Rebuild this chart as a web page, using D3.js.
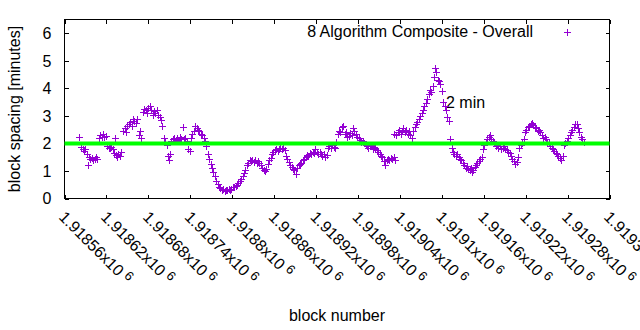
<!DOCTYPE html>
<html>
<head>
<meta charset="utf-8">
<script src="https://cdn.jsdelivr.net/npm/d3@7"></script>
<style>
body { margin: 0; background: #fff; }
text { font-family: "Liberation Sans", Arial, sans-serif; font-size: 16px; fill: #000; }
</style>
</head>
<body>
<div id="chart"></div>
<script>
// block heights (x) and spacing in minutes (y) of the composite series
var blocks = [
  1918581, 1918584, 1918586, 1918588, 1918590, 1918592, 1918594, 1918595, 1918597, 1918599,
  1918601, 1918603, 1918605, 1918607, 1918609, 1918611, 1918613, 1918615, 1918617, 1918619,
  1918621, 1918623, 1918625, 1918627, 1918629, 1918631, 1918632, 1918633, 1918635, 1918637,
  1918639, 1918641, 1918644, 1918646, 1918648, 1918650, 1918652, 1918654, 1918656, 1918658,
  1918660, 1918662, 1918664, 1918666, 1918668, 1918670, 1918672, 1918674, 1918676, 1918678,
  1918680, 1918682, 1918684, 1918686, 1918688, 1918690, 1918692, 1918694, 1918696, 1918698,
  1918700, 1918702, 1918704, 1918706, 1918708, 1918709, 1918711, 1918713, 1918715, 1918717,
  1918719, 1918721, 1918723, 1918725, 1918727, 1918729, 1918731, 1918733, 1918735, 1918737,
  1918739, 1918741, 1918743, 1918745, 1918747, 1918749, 1918751, 1918753, 1918755, 1918757,
  1918759, 1918761, 1918763, 1918765, 1918767, 1918769, 1918771, 1918773, 1918775, 1918777,
  1918779, 1918781, 1918783, 1918785, 1918787, 1918789, 1918791, 1918793, 1918795, 1918797,
  1918799, 1918801, 1918803, 1918805, 1918807, 1918809, 1918811, 1918813, 1918815, 1918817,
  1918819, 1918821, 1918823, 1918825, 1918827, 1918829, 1918831, 1918833, 1918835, 1918837,
  1918839, 1918841, 1918843, 1918845, 1918847, 1918849, 1918851, 1918853, 1918855, 1918857,
  1918859, 1918861, 1918863, 1918865, 1918867, 1918869, 1918871, 1918873, 1918875, 1918877,
  1918879, 1918881, 1918883, 1918885, 1918887, 1918889, 1918891, 1918893, 1918895, 1918897,
  1918899, 1918901, 1918903, 1918905, 1918907, 1918909, 1918911, 1918913, 1918915, 1918917,
  1918919, 1918921, 1918923, 1918925, 1918927, 1918929, 1918931, 1918933, 1918935, 1918937,
  1918939, 1918941, 1918943, 1918945, 1918947, 1918949, 1918951, 1918953, 1918955, 1918957,
  1918959, 1918961, 1918963, 1918965, 1918967, 1918969, 1918971, 1918973, 1918975, 1918977,
  1918979, 1918981, 1918983, 1918985, 1918987, 1918989, 1918991, 1918993, 1918995, 1918997,
  1918999, 1919001, 1919003, 1919005, 1919007, 1919009, 1919011, 1919013, 1919015, 1919017,
  1919019, 1919021, 1919023, 1919025, 1919027, 1919029, 1919031, 1919032, 1919033, 1919035,
  1919037, 1919039, 1919041, 1919043, 1919045, 1919047, 1919049, 1919051, 1919053, 1919055,
  1919057, 1919059, 1919061, 1919063, 1919065, 1919067, 1919069, 1919071, 1919073, 1919075,
  1919077, 1919079, 1919081, 1919083, 1919085, 1919087, 1919089, 1919090, 1919092, 1919094,
  1919096, 1919098, 1919100, 1919102, 1919104, 1919106, 1919108, 1919110, 1919112, 1919114,
  1919116, 1919118, 1919120, 1919122, 1919124, 1919126, 1919128, 1919130, 1919132, 1919134,
  1919136, 1919138, 1919140, 1919142, 1919143, 1919145, 1919147, 1919149, 1919151, 1919153,
  1919155, 1919157, 1919159, 1919161, 1919163, 1919165, 1919167, 1919169, 1919171, 1919173,
  1919175, 1919177, 1919179, 1919181, 1919183, 1919185, 1919187, 1919189, 1919191, 1919193,
  1919195, 1919197, 1919199, 1919201, 1919203, 1919205, 1919207, 1919209, 1919211, 1919213,
  1919215, 1919217, 1919219, 1919221, 1919223, 1919225, 1919227, 1919229, 1919231, 1919233,
  1919235, 1919237, 1919239, 1919241, 1919243, 1919245, 1919247, 1919249, 1919251, 1919253,
  1919255, 1919257, 1919259, 1919261, 1919263, 1919265, 1919267, 1919269, 1919271, 1919273,
  1919275, 1919277, 1919279, 1919281, 1919283, 1919285, 1919287, 1919289, 1919291, 1919293,
  1919295, 1919297, 1919299, 1919301, 1919303
];

var spacing = [
  2.25, 1.88, 1.80, 1.72, 1.78, 1.62, 1.22, 1.50, 1.42, 1.48,
  1.38, 1.45, 1.52, 1.42, 2.18, 2.30, 2.25, 2.35, 2.22, 2.28,
  1.90, 1.85, 1.82, 1.88, 1.78, 1.65, 2.20, 1.58, 1.52, 1.62,
  1.55, 1.68, 2.45, 2.55, 2.40, 2.62, 2.70, 2.78, 2.65, 2.88,
  2.82, 2.75, 2.90, 2.30, 2.45, 2.20, 3.15, 3.25, 3.20, 3.10,
  3.30, 3.35, 3.22, 3.05, 3.18, 3.12, 3.20, 3.05, 2.95, 2.85,
  2.65, 2.20, 2.05, 1.95, 1.55, 1.40, 1.60, 2.10, 2.15, 2.20,
  2.12, 2.18, 2.10, 2.22, 2.15, 2.60, 2.15, 2.20, 2.10, 1.80,
  1.72, 2.20, 2.35, 2.45, 2.62, 2.55, 2.50, 2.45, 2.35, 2.30,
  2.20, 2.10, 1.90, 1.60, 1.45, 1.25, 1.10, 0.95, 0.80, 0.65,
  0.52, 0.42, 0.38, 0.32, 0.35, 0.28, 0.32, 0.30, 0.34, 0.32,
  0.36, 0.40, 0.42, 0.45, 0.50, 0.55, 0.62, 0.70, 0.80, 0.92,
  1.05, 1.20, 1.30, 1.38, 1.35, 1.40, 1.32, 1.38, 1.30, 1.35,
  1.28, 1.20, 1.12, 1.05, 1.00, 1.08, 1.25, 1.38, 1.48, 1.60,
  1.68, 1.75, 1.78, 1.72, 1.80, 1.82, 1.78, 1.85, 1.75, 1.55,
  1.42, 1.32, 1.20, 1.15, 1.08, 1.02, 0.90, 1.10, 1.20, 1.25,
  1.30, 1.38, 1.45, 1.50, 1.58, 1.55, 1.65, 1.60, 1.70, 1.65,
  1.80, 1.68, 1.60, 1.70, 1.62, 1.55, 1.60, 1.52, 1.58, 1.85,
  1.90, 1.82, 1.95, 1.88, 1.85, 2.05, 2.35, 2.45, 2.40, 2.60,
  2.65, 2.35, 2.42, 2.22, 2.28, 2.38, 2.30, 2.55, 2.45, 2.35,
  2.25, 2.20, 2.12, 2.05, 2.10, 2.00, 1.95, 1.90, 1.85, 1.90,
  1.95, 1.80, 1.88, 1.82, 1.75, 1.68, 1.62, 1.55, 1.50, 1.35,
  1.22, 1.40, 1.45, 1.38, 1.48, 1.42, 1.50, 2.36, 1.38, 2.30,
  2.40, 2.50, 2.35, 2.45, 2.55, 2.40, 2.50, 2.35, 2.45, 2.30,
  2.20, 2.45, 2.60, 2.70, 2.78, 2.88, 3.00, 3.12, 3.22, 3.35,
  3.48, 3.60, 3.80, 3.95, 3.88, 4.10, 4.40, 4.75, 4.60, 4.30,
  4.25, 4.15, 3.90, 3.50, 3.35, 3.20, 2.95, 2.80, 2.15, 1.85,
  1.70, 1.60, 1.55, 1.62, 1.50, 1.45, 1.38, 1.30, 1.20, 1.12,
  1.18, 1.08, 1.05, 1.10, 0.95, 1.05, 1.15, 1.20, 1.28, 1.35,
  1.42, 1.50, 1.80, 1.95, 2.05, 2.15, 2.22, 2.30, 2.15, 2.10,
  2.00, 1.90, 1.95, 1.85, 1.90, 1.80, 1.85, 1.90, 1.80, 1.75,
  1.70, 1.65, 1.55, 1.45, 1.35, 1.25, 1.32, 1.50, 1.85, 1.95,
  2.00, 2.15, 2.40, 2.50, 2.60, 2.65, 2.70, 2.75, 2.68, 2.60,
  2.55, 2.45, 2.50, 2.40, 2.30, 2.20, 2.25, 2.15, 2.05, 2.00,
  1.90, 1.85, 1.80, 1.72, 1.65, 1.60, 1.55, 1.48, 1.40, 1.55,
  1.95, 2.00, 2.10, 2.20, 2.30, 2.40, 2.50, 2.60, 2.70, 2.72,
  2.55, 2.40, 2.25, 2.15, 2.05
];

var xTicks = [1918560, 1918620, 1918680, 1918740, 1918800, 1918860, 1918920,
              1918980, 1919040, 1919100, 1919160, 1919220, 1919280, 1919340];
var xTickLabels = ["1.91856", "1.91862", "1.91868", "1.91874", "1.9188", "1.91886", "1.91892",
                   "1.91898", "1.91904", "1.9191", "1.91916", "1.91922", "1.91928", "1.91934"];
var yTicks = [0, 1, 2, 3, 4, 5, 6];
var targetSpacing = 2;   // the 2 minute reference line

var width = 640, height = 330;
var plot = { left: 64.5, right: 609.5, top: 19.5, bottom: 198.5 };

var svg = d3.select("#chart")
    .append("svg")
    .attr("width", width)
    .attr("height", height);

var xScale = d3.scaleLinear()
    .domain([1918560, 1919340])
    .range([plot.left, plot.right]);

var yScale = d3.scaleLinear()
    .domain([0, 6.5])
    .range([plot.bottom, plot.top]);

function styleAxis(g) {
    g.attr("font-family", null).attr("font-size", null);
    g.select(".domain").remove();
    g.selectAll(".tick line").attr("stroke", "#000").attr("shape-rendering", "crispEdges");
}

// bottom axis with rotated labels
var xAxis = svg.append("g")
    .attr("transform", "translate(0," + plot.bottom + ")")
    .call(d3.axisBottom(xScale).tickValues(xTicks).tickSizeInner(-4).tickSizeOuter(0).tickFormat(""))
    .call(styleAxis);

xAxis.selectAll(".tick text")
    .attr("y", null).attr("dy", "0.35em")
    .attr("text-anchor", "start")
    .attr("transform", "translate(-3,15.5) rotate(45)")
    .each(function (d, i) {
        var t = d3.select(this);
        t.append("tspan").text(xTickLabels[i] + "x10");
        t.append("tspan").attr("dx", 4).attr("dy", -5).style("font-size", "13px").text("6");
    });

// mirrored ticks on top and right
svg.append("g")
    .attr("transform", "translate(0," + plot.top + ")")
    .call(d3.axisTop(xScale).tickValues(xTicks).tickSizeInner(-4).tickSizeOuter(0).tickFormat(""))
    .call(styleAxis);

svg.append("g")
    .attr("transform", "translate(" + plot.left + ",0)")
    .call(d3.axisLeft(yScale).tickValues(yTicks).tickSizeInner(-4).tickSizeOuter(0)
        .tickPadding(13).tickFormat(d3.format("d")))
    .call(styleAxis)
    .selectAll(".tick text").attr("dy", "0.34em");

svg.append("g")
    .attr("transform", "translate(" + plot.right + ",0)")
    .call(d3.axisRight(yScale).tickValues(yTicks).tickSizeInner(-4).tickSizeOuter(0).tickFormat(""))
    .call(styleAxis);

// frame
svg.append("rect")
    .attr("x", plot.left).attr("y", plot.top)
    .attr("width", plot.right - plot.left).attr("height", plot.bottom - plot.top)
    .attr("fill", "none").attr("stroke", "#000").attr("shape-rendering", "crispEdges");

// axis titles
svg.append("text")
    .attr("x", (plot.left + plot.right) / 2)
    .attr("y", 321)
    .attr("text-anchor", "middle")
    .text("block number");

svg.append("text")
    .attr("transform", "translate(20," + 109 + ") rotate(-90)")
    .attr("text-anchor", "middle")
    .text("block spacing [minutes]");

// label sits under the points
svg.append("text")
    .attr("x", xScale(1919106))
    .attr("y", yScale(3.5))
    .attr("dy", "0.34em")
    .text("2 min");

var cross = "M-3.5,0H3.5M0,-3.5V3.5";

svg.append("g")
    .selectAll("path")
    .data(blocks)
    .enter()
    .append("path")
    .attr("d", cross)
    .attr("transform", function (d, i) {
        return "translate(" + (Math.round(xScale(d)) + 0.5) + "," + (Math.round(yScale(spacing[i])) + 0.5) + ")";
    })
    .attr("fill", "none")
    .attr("stroke", "#9400d3")
    .attr("shape-rendering", "crispEdges");

// 2 minute target line
svg.append("line")
    .attr("x1", xScale.range()[0]).attr("x2", xScale.range()[1])
    .attr("y1", yScale(targetSpacing)).attr("y2", yScale(targetSpacing))
    .attr("stroke", "#00ff00")
    .attr("stroke-width", 4);

// legend
svg.append("text")
    .attr("x", 533)
    .attr("y", 37)
    .attr("text-anchor", "end")
    .text("8 Algorithm Composite - Overall");

svg.append("path")
    .attr("d", cross)
    .attr("transform", "translate(567.5,32.5)")
    .attr("fill", "none")
    .attr("stroke", "#9400d3")
    .attr("shape-rendering", "crispEdges");
</script>
</body>
</html>
